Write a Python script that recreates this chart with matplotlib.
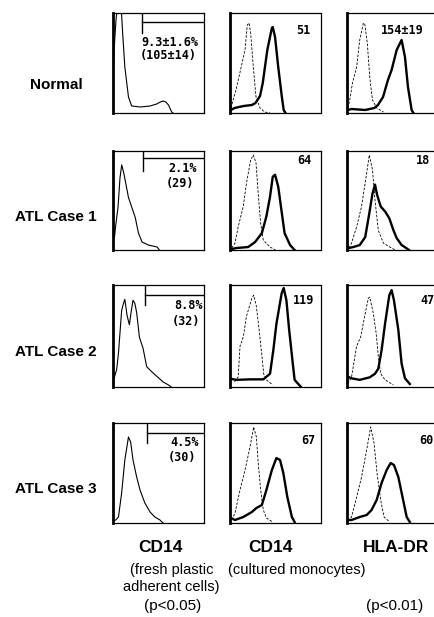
import matplotlib
matplotlib.use("Agg")
import matplotlib.pyplot as plt

plt.rcParams['font.family'] = ['Liberation Sans', 'DejaVu Sans']

# Etiquetas
row_labels = ["Normal", "ATL Case 1", "ATL Case 2", "ATL Case 3"]
fresh_pct = ["9.3\u00b11.6%", "2.1%", "8.8%", "4.5%"]
fresh_mfi = ["(105\u00b114)", "(29)", "(32)", "(30)"]
cd14_mfi = ["51", "64", "119", "67"]
hla_mfi = ["154\u00b119", "18", "47", "60"]
gate_x = [32, 33, 35, 37]

# CD14, células adherentes frescas (canal 0-100, cuentas relativas 0-100)
normal_fresh_x = [0, 2, 3.3, 5, 7, 9.5, 10.6, 13, 17, 20.5, 30, 40.7, 48, 52, 55, 58, 61, 64.5, 66]
normal_fresh_y = [40, 75, 93, 108, 112, 98, 80, 46, 16, 7, 6, 7, 9, 11, 12, 11, 8, 1, 0]
atl1_fresh_x = [0, 1.5, 3, 5.5, 7.7, 9.6, 12, 17, 20.7, 24.4, 28, 32, 39, 48.5, 51]
atl1_fresh_y = [30, 12, 25, 43, 73, 86, 77, 53, 43, 33, 17, 8, 5, 3, 0]
atl2_fresh_x = [0, 4, 6, 9.5, 11.5, 13, 15.5, 18, 20, 22, 24, 26, 29, 33, 37, 42.5, 50, 55, 61, 64]
atl2_fresh_y = [5, 17, 33, 75, 82, 86, 70, 61, 74, 85, 82, 73, 49, 38, 20, 15, 9, 5, 2, 0]
atl3_fresh_x = [0, 3, 6, 9.5, 13, 17, 19.4, 22, 26, 29.7, 35, 40.7, 46, 51.6, 55]
atl3_fresh_y = [2, 3, 6, 30, 63, 86, 81, 63, 46, 33, 20, 11, 6, 3, 0]

# CD14, monocitos cultivados (control punteado, tinción sólida)
normal_cd14_iso_x = [1, 4, 6.6, 12.8, 16.5, 19, 20.9, 22.7, 25.6, 28.6, 33, 38, 44]
normal_cd14_iso_y = [5, 15, 23, 48, 63, 88, 90, 80, 46, 16, 5, 1, 0]
normal_cd14_x = [1, 5, 15, 24, 28, 33, 36, 41, 46, 47, 49.5, 53, 57, 59, 61]
normal_cd14_y = [3, 5, 7, 8, 10, 17, 30, 63, 85, 86, 76, 46, 16, 3, 0]
atl1_cd14_iso_x = [2, 5.5, 9, 14.6, 18, 22.7, 25.6, 28.6, 31, 33.7, 36.6, 44, 50]
atl1_cd14_iso_y = [2, 7, 23.5, 44, 67, 91, 96, 88, 57, 27, 10, 3, 0]
atl1_cd14_x = [2, 7, 20, 27.5, 35, 40, 44, 47, 49.5, 53, 57, 60, 66, 71]
atl1_cd14_y = [1, 2, 3, 8, 17, 34, 54, 74, 76, 64, 37, 17, 5, 0]
atl2_cd14_iso_x = [5, 9, 11, 14.6, 18, 24, 26, 29, 32, 34.8, 37, 40, 47]
atl2_cd14_iso_y = [5, 10, 40, 49, 69, 87, 90, 79, 56, 33, 13, 7, 2]
atl2_cd14_x = [1, 7, 22, 36.6, 44, 47.6, 51, 56.8, 59, 62, 65, 69, 71, 75, 78]
atl2_cd14_y = [8, 7, 7.5, 7.5, 13, 36, 62, 92, 97, 85, 56, 23, 7, 3, 0]
atl3_cd14_iso_x = [2, 5.5, 11, 16.5, 22, 26, 29, 31, 33.7, 36.6, 40, 47]
atl3_cd14_iso_y = [3, 10, 33, 53, 76, 96, 86, 60, 33, 13, 5, 1]
atl3_cd14_x = [1, 5.5, 14.6, 24, 29, 35, 40, 46, 51, 55, 58.6, 63, 68, 71]
atl3_cd14_y = [5, 3, 6, 11, 15, 18, 33, 53, 65, 63, 50, 26, 6, 1]

# HLA-DR, monocitos cultivados
normal_hla_iso_x = [1, 3, 6, 10.6, 14, 18, 19.5, 22.3, 25, 28, 32.6, 40]
normal_hla_iso_y = [5, 13, 30, 46, 73, 90, 89, 70, 36, 13, 5, 1]
normal_hla_x = [1, 5, 20, 30, 34, 39.6, 45, 49, 54.6, 60, 63.7, 67, 71, 73]
normal_hla_y = [3, 4, 3, 5, 8, 16, 33, 43, 63, 73, 56, 26, 3, 0]
atl1_hla_iso_x = [2, 5, 10.6, 16, 21, 24.5, 28, 30.8, 34.4, 40, 47, 53]
atl1_hla_iso_y = [2, 7, 23.5, 44, 74, 96, 81, 50, 20, 7, 3, 0]
atl1_hla_x = [2, 7, 14, 20, 24.5, 28, 30.8, 33, 37, 41.8, 46.5, 51, 54.6, 60, 65, 68]
atl1_hla_y = [2, 3, 5, 13, 37, 57, 66, 56, 44, 39, 32, 20, 12, 5, 2, 0]
atl2_hla_iso_x = [1, 5, 10.6, 15, 20, 23.4, 25, 29, 32, 34.4, 37, 41.8, 51]
atl2_hla_iso_y = [3, 10, 40, 49, 72, 87, 88, 72, 53, 30, 13, 7, 2]
atl2_hla_x = [1, 5, 14, 25, 30.8, 34.4, 38, 41.8, 46.5, 49, 51.6, 56.4, 60, 63.7, 69]
atl2_hla_y = [10, 8.5, 7, 9.5, 13, 18, 36, 62, 90, 95, 85, 56, 23, 8.5, 3]
atl3_hla_iso_x = [1, 5, 10.6, 16, 21.6, 26, 29.7, 33, 37, 40.7, 47]
atl3_hla_iso_y = [2, 6, 26, 46, 73, 96, 80, 50, 23, 6, 1]
atl3_hla_x = [1, 5, 14, 21.6, 27, 32.6, 38, 43.6, 48, 51.6, 56.4, 61, 65.6, 69]
atl3_hla_y = [3, 3, 6, 8, 13, 23, 40, 53, 60, 58, 46, 26, 6, 1]

fresh = [(normal_fresh_x, normal_fresh_y), (atl1_fresh_x, atl1_fresh_y),
         (atl2_fresh_x, atl2_fresh_y), (atl3_fresh_x, atl3_fresh_y)]
cd14 = [(normal_cd14_iso_x, normal_cd14_iso_y, normal_cd14_x, normal_cd14_y),
        (atl1_cd14_iso_x, atl1_cd14_iso_y, atl1_cd14_x, atl1_cd14_y),
        (atl2_cd14_iso_x, atl2_cd14_iso_y, atl2_cd14_x, atl2_cd14_y),
        (atl3_cd14_iso_x, atl3_cd14_iso_y, atl3_cd14_x, atl3_cd14_y)]
hla = [(normal_hla_iso_x, normal_hla_iso_y, normal_hla_x, normal_hla_y),
       (atl1_hla_iso_x, atl1_hla_iso_y, atl1_hla_x, atl1_hla_y),
       (atl2_hla_iso_x, atl2_hla_iso_y, atl2_hla_x, atl2_hla_y),
       (atl3_hla_iso_x, atl3_hla_iso_y, atl3_hla_x, atl3_hla_y)]

W, H = 435, 617
fig = plt.figure(figsize=(W / 100, H / 100), dpi=100)
fig.patch.set_facecolor("white")

col_left = [113, 230, 347]
row_top = [13, 151, 285, 423]
row_h = [100, 99, 102, 100]
pw = 91


def panel(left, top, h):
    ax = fig.add_axes([left / W, 1 - (top + h) / H, pw / W, h / H])
    ax.set_xlim(0, 100)
    ax.set_ylim(0, 100)
    ax.set_xticks([])
    ax.set_yticks([])
    for s in ax.spines.values():
        s.set_linewidth(0.9)
    ax.spines["left"].set_linewidth(2.0)
    return ax


def ftext(px, py, s, **kw):
    fig.text(px / W, 1 - py / H, s, ha="center", va="center", **kw)


mono = dict(family="DejaVu Sans Mono", fontsize=8.5, fontweight="bold")

# posiciones de los números dentro de los paneles (px)
fresh_pos = [((169.5, 43), (168, 55)), ((182.5, 169), (180, 183)),
             ((188.5, 305), (186.5, 322)), ((185, 443), (182.5, 457))]
cd14_pos = [(303, 30), (304, 160), (303.5, 300), (308, 440)]
hla_pos = [(402.5, 30), (423.5, 160), (427.5, 300), (426.5, 440)]

for i in range(4):
    top, h = row_top[i], row_h[i]

    ax = panel(col_left[0], top, h)
    fx, fy = fresh[i]
    ax.plot(fx, fy, color="black", lw=0.8)
    gy = 91 if i == 0 else (93 if i == 1 else 90)
    ax.plot([gate_x[i], gate_x[i]], [100, 80], color="black", lw=1.0)
    ax.plot([gate_x[i], 100], [gy, gy], color="black", lw=1.0)
    ftext(*fresh_pos[i][0], fresh_pct[i], **mono)
    ftext(*fresh_pos[i][1], fresh_mfi[i], **mono)

    for c, data, pos, lab in [(1, cd14, cd14_pos, cd14_mfi), (2, hla, hla_pos, hla_mfi)]:
        ax = panel(col_left[c], top, h)
        ix, iy, sx, sy = data[i]
        ax.plot(ix, iy, color="black", lw=0.6, dashes=(3, 1.8))
        ax.plot(sx, sy, color="black", lw=1.7, solid_joinstyle="round")
        ftext(*pos[i], lab[i], **mono)

# etiquetas de filas
row_y = [85, 217, 352, 489]
for lab, y in zip(row_labels, row_y):
    ftext(56, y, lab, fontsize=11, fontweight="bold")

# etiquetas de columnas
ftext(160, 548, "CD14", fontsize=12.5, fontweight="bold")
ftext(172, 570, "(fresh plastic", fontsize=10.5)
ftext(171.5, 587, "adherent cells)", fontsize=10.5)
ftext(172.5, 606, "(p<0.05)", fontsize=11)
ftext(270, 548, "CD14", fontsize=12.5, fontweight="bold")
ftext(396, 548, "HLA-DR", fontsize=12.5, fontweight="bold")
ftext(296.5, 570, "(cultured monocytes)", fontsize=10.5)
ftext(395, 606, "(p<0.01)", fontsize=11)

fig.savefig("out.png", dpi=100)
